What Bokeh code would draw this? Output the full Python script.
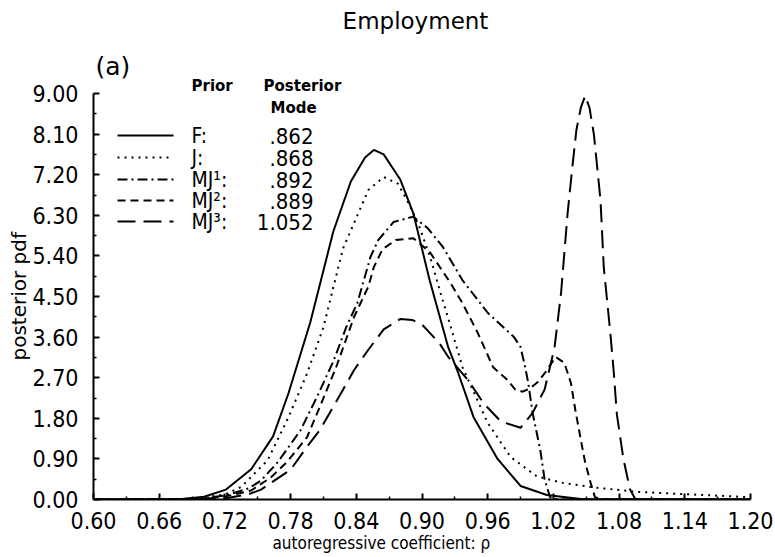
from bokeh.plotting import figure
from bokeh.models import Range1d, FixedTicker, Label, CustomJSTickFormatter, Title
from bokeh.embed import file_html
from bokeh.resources import INLINE

# ---------------- data ----------------
x_ticks = [0.60, 0.66, 0.72, 0.78, 0.84, 0.90, 0.96, 1.02, 1.08, 1.14, 1.20]
x_minor = [0.63, 0.69, 0.75, 0.81, 0.87, 0.93, 0.99, 1.05, 1.11, 1.17]
y_ticks = [0.0, 0.9, 1.8, 2.7, 3.6, 4.5, 5.4, 6.3, 7.2, 8.1, 9.0]
y_minor = [0.45, 1.35, 2.25, 3.15, 4.05, 4.95, 5.85, 6.75, 7.65, 8.55]

f_x = [0.60, 0.661, 0.681, 0.701, 0.721, 0.744, 0.764, 0.778, 0.798, 0.819, 0.835, 0.848,
       0.856, 0.865, 0.880, 0.892, 0.907, 0.924, 0.933, 0.947, 0.969, 0.990, 1.014, 1.045, 1.20]
f_y = [0.0, 0.0, 0.01, 0.06, 0.22, 0.67, 1.4, 2.35, 3.93, 5.94, 7.05, 7.58,
       7.75, 7.65, 7.1, 6.35, 4.86, 3.37, 2.81, 1.83, 0.9, 0.3, 0.1, 0.01, 0.0]

j_x = [0.60, 0.681, 0.701, 0.721, 0.735, 0.759, 0.778, 0.795, 0.810, 0.819, 0.828, 0.851,
       0.865, 0.878, 0.889, 0.898, 0.908, 0.918, 0.926, 0.937, 0.960, 0.981, 1.005,
       1.030, 1.060, 1.096, 1.130, 1.166, 1.20]
j_y = [0.0, 0.01, 0.04, 0.12, 0.28, 0.87, 1.82, 2.79, 3.82, 4.7, 5.57, 6.86,
       7.15, 7.0, 6.51, 6.02, 5.33, 4.49, 3.85, 2.93, 1.7, 0.94, 0.51,
       0.36, 0.26, 0.17, 0.13, 0.09, 0.05]

mj1_x = [0.60, 0.681, 0.701, 0.721, 0.742, 0.753, 0.768, 0.789, 0.804, 0.819, 0.831, 0.841,
         0.853, 0.860, 0.874, 0.892, 0.905, 0.919, 0.937, 0.960, 0.984, 0.990, 0.994,
         0.997, 1.001, 1.008, 1.012, 1.017, 1.025, 1.20]
mj1_y = [0.0, 0.01, 0.03, 0.09, 0.25, 0.42, 0.82, 1.53, 2.27, 3.06, 3.83, 4.36,
         5.38, 5.75, 6.15, 6.27, 6.02, 5.6, 4.86, 4.14, 3.6, 3.38, 2.96,
         2.59, 1.92, 1.1, 0.44, 0.05, 0.0, 0.0]

mj2_x = [0.60, 0.681, 0.701, 0.721, 0.744, 0.762, 0.777, 0.795, 0.807, 0.822, 0.838, 0.851,
         0.856, 0.864, 0.876, 0.892, 0.907, 0.926, 0.937, 0.951, 0.965, 0.978, 0.985,
         0.992, 0.999, 1.006, 1.013, 1.022, 1.030, 1.036, 1.040, 1.045, 1.049, 1.054,
         1.058, 1.065, 1.20]
mj2_y = [0.0, 0.01, 0.02, 0.07, 0.2, 0.49, 0.84, 1.38, 2.07, 2.96, 4.05, 4.72,
         5.15, 5.55, 5.75, 5.79, 5.49, 4.8, 4.35, 3.69, 2.93, 2.65, 2.44,
         2.39, 2.47, 2.61, 2.83, 3.16, 3.03, 2.58, 1.99, 1.33, 0.82, 0.37,
         0.05, 0.0, 0.0]

mj3_x = [0.60, 0.701, 0.721, 0.742, 0.753, 0.780, 0.795, 0.807, 0.819, 0.828, 0.838, 0.851,
         0.865, 0.880, 0.891, 0.900, 0.916, 0.924, 0.942, 0.956, 0.972, 0.990, 1.001,
         1.012, 1.021, 1.027, 1.033, 1.037, 1.041, 1.045, 1.049, 1.053, 1.057, 1.063,
         1.066, 1.072, 1.075, 1.078, 1.084, 1.090, 1.095, 1.20]
mj3_y = [0.0, 0.01, 0.03, 0.12, 0.22, 0.66, 1.17, 1.55, 2.06, 2.44, 2.87, 3.32,
         3.77, 4.0, 3.98, 3.88, 3.46, 3.16, 2.65, 2.14, 1.73, 1.59, 1.92,
         2.44, 3.36, 4.58, 6.35, 7.3, 8.19, 8.68, 8.95, 8.68, 8.09, 6.64,
         5.15, 3.69, 2.86, 1.88, 0.89, 0.22, 0.0, 0.0]

prior_names = ["F:", "J:", "MJ\u00b9:", "MJ\u00b2:", "MJ\u00b3:"]
posterior_modes = [".862", ".868", ".892", ".889", "1.052"]
series_x = [f_x, j_x, mj1_x, mj2_x, mj3_x]
series_y = [f_y, j_y, mj1_y, mj2_y, mj3_y]
dashes = ["solid", "2 5", "10 4 2 4", "8 5", "18 8"]

# ---------------- layout (figure pixels) ----------------
W, H = 775, 557
XMIN, XMAX, YMIN, YMAX = 0.60, 1.20, 0.0, 9.0
FL, FR, FB, FT9 = 93, 750, 499, 93   # frame left/right/bottom, y of 9.00
PXX = (FR - FL) / (XMAX - XMIN)
PXY = (FB - FT9) / (YMAX - YMIN)


def ax(px):
    return XMIN + (px - FL) / PXX


def ay(py):
    return YMIN + (FB - py) / PXY


p = figure(width=W, height=H, output_backend="svg", toolbar_location=None,
           x_range=Range1d(XMIN, XMAX), y_range=Range1d(YMIN, ay(0)),
           min_border_left=FL, min_border_right=W - FR,
           min_border_top=0, min_border_bottom=H - FB)
p.outline_line_color = None
p.xgrid.visible = False
p.ygrid.visible = False
p.background_fill_color = "white"
p.border_fill_color = "white"

TICK_FONT = "DejaVu Sans Condensed"
fmt = CustomJSTickFormatter(code="return tick.toFixed(2);")
for axis, ticks, minor, bnds in ((p.xaxis[0], x_ticks, x_minor, (XMIN, XMAX)),
                                  (p.yaxis[0], y_ticks, y_minor, (YMIN, YMAX))):
    axis.ticker = FixedTicker(ticks=ticks, minor_ticks=minor)
    axis.formatter = fmt
    axis.bounds = bnds
    axis.axis_line_width = 2
    axis.axis_line_color = "black"
    axis.major_tick_in = 6
    axis.major_tick_out = 0
    axis.minor_tick_in = 3
    axis.minor_tick_out = 0
    axis.major_tick_line_width = 2
    axis.minor_tick_line_width = 1.5
    axis.major_tick_line_color = "black"
    axis.minor_tick_line_color = "black"
    axis.major_label_text_font = TICK_FONT
    axis.major_label_text_font_size = "23px"
    axis.major_label_text_color = "black"

p.xaxis[0].major_label_standoff = 12
p.yaxis[0].major_label_standoff = 15

# axis titles as side-panel titles (positioned like the reference)
p.add_layout(Title(text="posterior pdf", align="left", offset=FB - 360,
                   vertical_align="middle", standoff=-4, text_font="DejaVu Sans",
                   text_font_size="20px", text_font_style="normal",
                   text_color="black"), "left")
p.add_layout(Title(text="autoregressive coefficient: \u03c1", align="left",
                   offset=272 - FL, vertical_align="middle", standoff=0,
                   text_font="DejaVu Sans Condensed", text_font_size="17px",
                   text_font_style="normal", text_color="black"), "below")

# curves
for xs, ys, d in zip(series_x, series_y, dashes):
    p.line(xs, ys, line_color="black", line_width=2, line_dash=d)

# legend (manual)
row_y = [135, 157, 179, 200, 221]
for i, (name, mode, d) in enumerate(zip(prior_names, posterior_modes, dashes)):
    yy = ay(row_y[i])
    p.line([ax(117), ax(173)], [yy, yy], line_color="black", line_width=2, line_dash=d)
    p.add_layout(Label(x=ax(191), y=yy, text=name, text_font=TICK_FONT,
                       text_font_size="21px", text_baseline="middle", text_align="left",
                       text_color="black"))
    p.add_layout(Label(x=ax(313), y=yy, text=mode, text_font=TICK_FONT,
                       text_font_size="22px", text_baseline="middle", text_align="right",
                       text_color="black"))

for txt, px, py in (("Prior", 191, 85), ("Posterior", 263, 85), ("Mode", 270, 107)):
    p.add_layout(Label(x=ax(px), y=ay(py), text=txt, text_font="DejaVu Sans",
                       text_font_size="15px", text_font_style="bold",
                       text_baseline="middle", text_align="left", text_color="black"))

p.add_layout(Label(x=ax(95), y=ay(66), text="(a)", text_font="DejaVu Sans",
                   text_font_size="25px", text_baseline="middle", text_align="left",
                   text_color="black"))
p.add_layout(Label(x=ax(415), y=ay(20), text="Employment", text_font="DejaVu Sans",
                   text_font_size="23px", text_baseline="middle", text_align="center",
                   text_color="black"))

open("out.html", "w").write(file_html(p, INLINE))
